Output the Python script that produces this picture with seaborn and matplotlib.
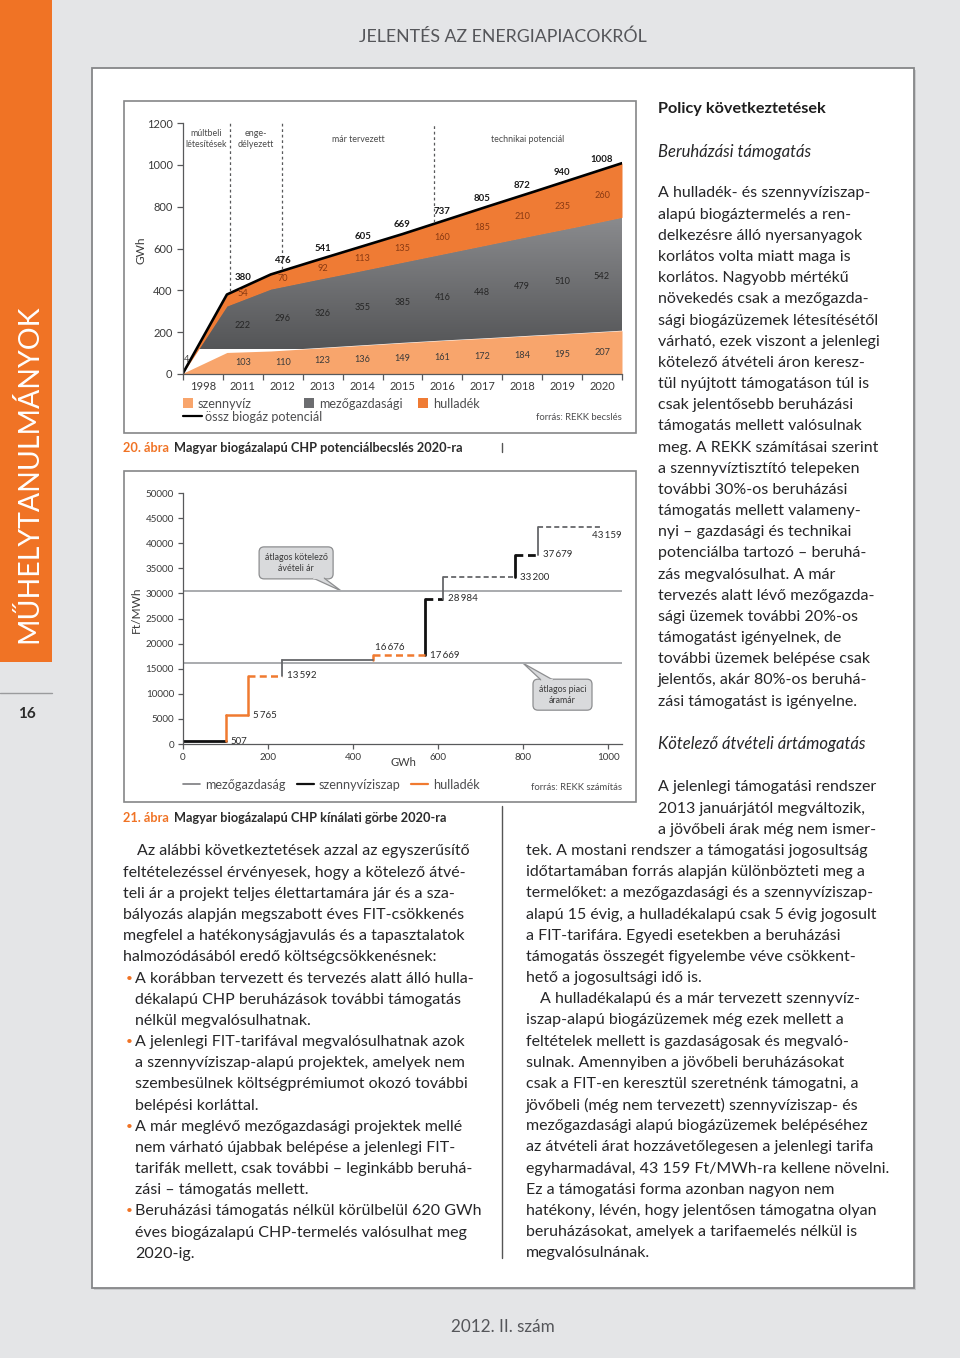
import numpy as np
import pandas as pd
import matplotlib
matplotlib.use("Agg")
import matplotlib.pyplot as plt
from matplotlib.patches import Rectangle, FancyBboxPatch, Polygon
from matplotlib.colors import LinearSegmentedColormap
import seaborn as sns

# ------------------- Data: 20. ábra (GWh) -------------------
years = ['1998', '2011', '2012', '2013', '2014', '2015', '2016', '2017', '2018', '2019', '2020']
szennyviz = [4, 103, 110, 123, 136, 149, 161, 172, 184, 195, 207]
mezogazdasagi = [0, 222, 296, 326, 355, 385, 416, 448, 479, 510, 542]
hulladek = [0, 54, 70, 92, 113, 135, 160, 185, 210, 235, 260]
ossz_potencial = [4, 380, 476, 541, 605, 669, 737, 805, 872, 940, 1008]
phase_labels = ['múltbeli\nlétesítések', 'enge-\ndélyezett', 'már tervezett', 'technikai potenciál']
phase_bounds = [1.07, 2.25, 5.72]

# ------------------- Data: 21. ábra (GWh, Ft/MWh) -------------------
supply_start = [0, 101, 153, 233, 447, 569, 612, 781, 835]
supply_end = [101, 153, 233, 447, 569, 612, 781, 835, 981]
supply_price = [507, 5765, 13592, 16676, 17669, 28984, 33200, 37679, 43159]
supply_source = ['szennyvíziszap', 'hulladék', 'hulladék', 'mezőgazdaság', 'hulladék',
                 'szennyvíziszap', 'mezőgazdaság', 'szennyvíziszap', 'mezőgazdaság']
supply_status = ['meglévő', 'meglévő', 'tervezett', 'meglévő', 'tervezett',
                 'tervezett', 'tervezett', 'tervezett', 'tervezett']
fit_avg_price = 30500
market_avg_price = 16100

# ------------------- Page text -------------------
sidebar_lines = [
    "A hulladék- és szennyvíziszap-", "alapú biogáztermelés a ren-", "delkezésre álló nyersanyagok",
    "korlátos volta miatt maga is", "korlátos. Nagyobb mértékű", "növekedés csak a mezőgazda-",
    "sági biogázüzemek létesítésétől", "várható, ezek viszont a jelenlegi", "kötelező átvételi áron keresz-",
    "tül nyújtott támogatáson túl is", "csak jelentősebb beruházási", "támogatás mellett valósulnak",
    "meg. A REKK számításai szerint", "a szennyvíztisztító telepeken", "további 30%-os beruházási",
    "támogatás mellett valameny-", "nyi – gazdasági és technikai", "potenciálba tartozó – beruhá-",
    "zás megvalósulhat. A már", "tervezés alatt lévő mezőgazda-", "sági üzemek további 20%-os",
    "támogatást igényelnek, de", "további üzemek belépése csak", "jelentős, akár 80%-os beruhá-",
    "zási támogatást is igényelne."]

left_lines = [
    (137, "Az alábbi következtetések azzal az egyszerűsítő", False),
    (123, "feltételezéssel érvényesek, hogy a kötelező átvé-", False),
    (123, "teli ár a projekt teljes élettartamára jár és a sza-", False),
    (123, "bályozás alapján megszabott éves FIT-csökkenés", False),
    (123, "megfelel a hatékonyságjavulás és a tapasztalatok", False),
    (123, "halmozódásából eredő költségcsökkenésnek:", False),
    (135, "A korábban tervezett és tervezés alatt álló hulla-", True),
    (135, "dékalapú CHP beruházások további támogatás", False),
    (135, "nélkül megvalósulhatnak.", False),
    (135, "A jelenlegi FIT-tarifával megvalósulhatnak azok", True),
    (135, "a szennyvíziszap-alapú projektek, amelyek nem", False),
    (135, "szembesülnek költségprémiumot okozó további", False),
    (135, "belépési korláttal.", False),
    (135, "A már meglévő mezőgazdasági projektek mellé", True),
    (135, "nem várható újabbak belépése a jelenlegi FIT-", False),
    (135, "tarifák mellett, csak további – leginkább beruhá-", False),
    (135, "zási – támogatás mellett.", False),
    (135, "Beruházási támogatás nélkül körülbelül 620 GWh", True),
    (135, "éves biogázalapú CHP-termelés valósulhat meg", False),
    (135, "2020-ig.", False)]

right_lines = [
    (658, "A jelenlegi támogatási rendszer"), (658, "2013 januárjától megváltozik,"),
    (658, "a jövőbeli árak még nem ismer-"),
    (526, "tek. A mostani rendszer a támogatási jogosultság"),
    (526, "időtartamában forrás alapján különbözteti meg a"),
    (526, "termelőket: a mezőgazdasági és a szennyvíziszap-"),
    (526, "alapú 15 évig, a hulladékalapú csak 5 évig jogosult"),
    (526, "a FIT-tarifára. Egyedi esetekben a beruházási"),
    (526, "támogatás összegét figyelembe véve csökkent-"),
    (526, "hető a jogosultsági idő is."),
    (540, "A hulladékalapú és a már tervezett szennyvíz-"),
    (526, "iszap-alapú biogázüzemek még ezek mellett a"),
    (526, "feltételek mellett is gazdaságosak és megvaló-"),
    (526, "sulnak. Amennyiben a jövőbeli beruházásokat"),
    (526, "csak a FIT-en keresztül szeretnénk támogatni, a"),
    (526, "jövőbeli (még nem tervezett) szennyvíziszap- és"),
    (526, "mezőgazdasági alapú biogázüzemek belépéséhez"),
    (526, "az átvételi árat hozzávetőlegesen a jelenlegi tarifa"),
    (526, "egyharmadával, 43 159 Ft/MWh-ra kellene növelni."),
    (526, "Ez a támogatási forma azonban nagyon nem"),
    (526, "hatékony, lévén, hogy jelentősen támogatna olyan"),
    (526, "beruházásokat, amelyek a tarifaemelés nélkül is"),
    (526, "megvalósulnának.")]

# ------------------- Style -------------------
sns.set_theme(style="white")
plt.rcParams['font.family'] = ['Lato', 'DejaVu Sans']

ORANGE = '#f07325'
C_SZENNY = '#f8a56c'
C_MEZO_TOP = '#8b8c8f'
C_MEZO_BOT = '#545557'
C_HULL = '#ef7b34'
TXT = '#262628'
GRAY_TXT = '#4d4d4f'
AX_COL = '#58595b'

W, H = 960, 1358
fig = plt.figure(figsize=(W / 100, H / 100), dpi=100)
fig.patch.set_facecolor('#e4e5e7')

page = fig.add_axes([0, 0, 1, 1])
page.set_xlim(0, W)
page.set_ylim(H, 0)
page.axis('off')


def add_box(x0, y0, x1, y1, shadow=3, lw=1.2):
    page.add_patch(Rectangle((x0 + shadow, y0 + shadow), x1 - x0, y1 - y0,
                             facecolor='#c9cacc', edgecolor='none', zorder=1))
    page.add_patch(Rectangle((x0, y0), x1 - x0, y1 - y0, facecolor='white',
                             edgecolor='#858688', lw=lw, zorder=2))


def txt(x, y, s, size=10.3, color=TXT, **kw):
    kw.setdefault('va', 'center_baseline')
    kw.setdefault('ha', 'left')
    return page.text(x, y, s, fontsize=size, color=color, zorder=5, **kw)


# page frame
page.add_patch(Rectangle((0, 0), 52, 662, facecolor=ORANGE, edgecolor='none', zorder=1))
page.plot([0, 52], [693, 693], color='#9a9b9d', lw=1, zorder=2)
txt(27, 713, '16', size=11, color='#2b2b2b', ha='center', fontweight='bold')
txt(29, 474, 'MŰHELYTANULMÁNYOK', size=20.5, color='white', ha='center', va='center',
    rotation=90)
txt(503, 35, 'JELENTÉS AZ ENERGIAPIACOKRÓL', size=12.8, color='#55565a', ha='center')
txt(503, 1325, '2012. II. szám', size=12.3, color='#55565a', ha='center')
add_box(92, 68, 914, 1288, shadow=2, lw=1.3)
add_box(124, 101, 636, 433)
add_box(124, 471, 636, 802)

# column separator
page.plot([502, 502], [443, 452], color='#555', lw=1, zorder=3)
page.plot([502, 502], [806, 1258], color='#555', lw=1, zorder=3)

# ------------------- Chart 20 -------------------
ax1 = fig.add_axes([183 / W, 1 - 374 / H, (622 - 183) / W, 251 / H], zorder=3)
ax1.patch.set_alpha(0)
x = np.arange(len(years))
s = np.array(szennyviz)
m = np.array(mezogazdasagi)
h = np.array(hulladek)
ax1.fill_between(x, 0, s, color=C_SZENNY, lw=0)
mezo_poly = ax1.fill_between(x, s, s + m, color='none', lw=0)
grad = np.linspace(0, 1, 256).reshape(-1, 1)
im = ax1.imshow(grad, extent=[0, len(years) - 1, 120, 760], origin='lower', aspect='auto',
                cmap=LinearSegmentedColormap.from_list('mezo', [C_MEZO_BOT, C_MEZO_TOP]))
im.set_clip_path(mezo_poly.get_paths()[0], transform=ax1.transData)
ax1.fill_between(x, s + m, s + m + h, color=C_HULL, lw=0)
sns.lineplot(x=x, y=ossz_potencial, color='black', lw=1.9, ax=ax1)
ax1.set_xlim(0, len(years) - 1)
ax1.set_ylim(0, 1200)

nb = len(years)
bin_w = (len(years) - 1) / nb
centers = (np.arange(nb) + 0.5) * bin_w
ax1.set_xticks(np.arange(nb + 1) * bin_w)
ax1.set_xticklabels([])
for c, yl in zip(centers, years):
    ax1.text(c, -0.028, yl, transform=ax1.get_xaxis_transform(), ha='center', va='top',
             fontsize=8, color='#3a3a3a')
ax1.set_yticks(range(0, 1201, 200))
ax1.tick_params(axis='y', labelsize=8, labelcolor='#3a3a3a', length=4.5, width=0.9,
                color=AX_COL, direction='out', left=True, pad=3)
ax1.tick_params(axis='x', length=4.5, width=0.9, color=AX_COL, direction='out', bottom=True)
for sp in ['top', 'right']:
    ax1.spines[sp].set_visible(False)
for sp in ['left', 'bottom']:
    ax1.spines[sp].set_color(AX_COL)
    ax1.spines[sp].set_linewidth(0.9)

# phase separators and labels
tot = np.array(ossz_potencial, dtype=float)
for b in phase_bounds:
    top_line = np.interp(b, x, tot)
    ax1.plot([b, b], [top_line + 10, 1200], color='#58595b', lw=0.9, ls=(0, (2.2, 2.2)))
edges = [0] + phase_bounds + [len(years) - 1]
for i, lab in enumerate(phase_labels):
    ax1.text((edges[i] + edges[i + 1]) / 2, 1122, lab, ha='center', va='center',
             fontsize=6.4, color='#4a4a4a', linespacing=1.25)

# value labels
for i in range(nb):
    c = centers[i]
    s_lo = np.interp(c, x, s)
    m_top = np.interp(c, x, s + m)
    t_top = np.interp(c, x, tot)
    if i == 0:
        ax1.text(0.08, 67, str(szennyviz[0]), fontsize=6.6, color='#444', ha='center', va='center')
        continue
    ax1.text(c, s_lo / 2, str(szennyviz[i]), fontsize=6.6, color='#3a3a3a', ha='center', va='center')
    ax1.text(c, (s_lo + m_top) / 2, str(mezogazdasagi[i]), fontsize=6.6, color='#262626',
             ha='center', va='center')
    ax1.text(c, (m_top + t_top) / 2, str(hulladek[i]), fontsize=6.6, color='#8a3a12',
             ha='center', va='center')
    ax1.annotate(str(ossz_potencial[i]), (c, t_top), xytext=(0, 4), textcoords='offset points',
                 ha='center', va='bottom', fontsize=6.9, fontweight='bold', color='#1a1a1a')

txt(141, 250, 'GWh', size=8.6, color='#3a3a3a', ha='center', va='center', rotation=90)

# legend 20
for lx, col, lab in [(183, C_SZENNY, 'szennyvíz'), (304, '#6c6d70', 'mezőgazdasági'),
                     (418, C_HULL, 'hulladék')]:
    page.add_patch(Rectangle((lx, 398), 10, 10, facecolor=col, edgecolor='none', zorder=4))
    txt(lx + 15, 403, lab, size=9.1, color=GRAY_TXT)
page.plot([183, 202], [416, 416], color='black', lw=1.6, zorder=4)
txt(205, 416, 'össz biogáz potenciál', size=9.1, color=GRAY_TXT)
txt(622, 416, 'forrás: REKK becslés', size=6.8, color=GRAY_TXT, ha='right')


def caption(y, num, title):
    t = txt(123, y, num, size=9.2, color=ORANGE, fontweight='bold')
    r = fig.canvas.get_renderer()
    bb = t.get_window_extent(r)
    x_end = page.transData.inverted().transform((bb.x1, bb.y0))[0]
    txt(x_end + 5, y, title, size=9.2, color='#2b2b2b', fontweight='bold')


caption(447, '20. ábra', 'Magyar biogázalapú CHP potenciálbecslés 2020-ra')

# ------------------- Chart 21 -------------------
ax2 = fig.add_axes([183 / W, 1 - 744 / H, (622 - 183) / W, 251 / H], zorder=3)
ax2.patch.set_alpha(0)
ax2.set_xlim(0, (622 - 183) / 0.425)
ax2.set_ylim(0, 50000)

rows = []
for i in range(len(supply_price)):
    if i > 0:
        rows.append(dict(gwh=supply_start[i], price=supply_price[i - 1], piece=f'v{i}',
                         source=supply_source[i], status='meglévő'))
        rows.append(dict(gwh=supply_start[i], price=supply_price[i], piece=f'v{i}',
                         source=supply_source[i], status='meglévő'))
    rows.append(dict(gwh=supply_start[i], price=supply_price[i], piece=f'h{i}',
                     source=supply_source[i], status=supply_status[i]))
    rows.append(dict(gwh=supply_end[i], price=supply_price[i], piece=f'h{i}',
                     source=supply_source[i], status=supply_status[i]))
supply = pd.DataFrame(rows)

src_colors = {'mezőgazdaság': '#66676a', 'szennyvíziszap': '#111111', 'hulladék': '#f07a30'}
src_sizes = {'mezőgazdaság': 1.3, 'szennyvíziszap': 2.0, 'hulladék': 1.8}

# reference lines
ax2.axhline(fit_avg_price, color='#a9abae', lw=1.4, zorder=1)
ax2.axhline(market_avg_price, color='#a9abae', lw=1.4, zorder=1)

sns.lineplot(data=supply, x='gwh', y='price', hue='source', units='piece', style='status',
             size='source', sizes=src_sizes, palette=src_colors,
             dashes={'meglévő': '', 'tervezett': (2.8, 1.7)},
             estimator=None, sort=False, legend=False, ax=ax2)
ax2.set_xlabel('')
ax2.set_ylabel('')

ax2.set_xticks(range(0, 1001, 200))
ax2.set_yticks(range(0, 50001, 5000))
ax2.tick_params(axis='both', labelsize=7.1, labelcolor='#3a3a3a', length=3.5, width=0.9,
                color=AX_COL, direction='out', left=True, bottom=True, pad=3)
for sp in ['top', 'right']:
    ax2.spines[sp].set_visible(False)
for sp in ['left', 'bottom']:
    ax2.spines[sp].set_color(AX_COL)
    ax2.spines[sp].set_linewidth(0.9)


# step labels
def fmt(v):
    return f'{v:,}'.replace(',', '\u2009')


for i, p in enumerate(supply_price):
    xe = supply_end[i]
    if i == len(supply_price) - 1:
        ax2.annotate(fmt(p), (1.0, p), xycoords=('axes fraction', 'data'), xytext=(0, -6),
                     textcoords='offset points', ha='right', va='center', fontsize=7, color='#2a2a2a')
    elif i == 3:
        ax2.annotate(fmt(p), (xe, p), xytext=(1.5, 9), textcoords='offset points',
                     ha='left', va='center', fontsize=7, color='#2a2a2a')
    else:
        ax2.annotate(fmt(p), (xe, p), xytext=(3.5, 0), textcoords='offset points',
                     ha='left', va='center', fontsize=7, color='#2a2a2a')


# callouts
def callout(ax, xd, yd, dx, dy, bw, bh, text, tail_side):
    X, Y = ax.transData.transform((xd, yd))
    px, py = page.transData.inverted().transform((X, Y))
    bx, by = px + dx, py + dy
    page.add_patch(FancyBboxPatch((bx, by), bw, bh, boxstyle='round,pad=0,rounding_size=5',
                                  facecolor='#d9dadc', edgecolor='#8d8e90', lw=0.9, zorder=6))
    if tail_side == 'bottom':
        tail = [(bx + bw - 20, by + bh - 0.8), (bx + bw - 9, by + bh - 0.8), (px, py)]
    else:
        tail = [(bx + 8, by + 0.8), (bx + 20, by + 0.8), (px, py)]
    page.add_patch(Polygon(tail, closed=True, facecolor='#d9dadc', edgecolor='#8d8e90', lw=0.9,
                           zorder=6))
    page.plot([tail[0][0] + 0.8, tail[1][0] - 0.8], [tail[0][1], tail[1][1]], color='#d9dadc',
              lw=1.6, zorder=7)
    txt(bx + bw / 2, by + bh / 2, text, size=6.4, color='#3a3a3a', ha='center', va='center',
        linespacing=1.3).set_zorder(8)


callout(ax2, 372, fit_avg_price, -82, -44, 74, 32, 'átlagos kötelező\návételi ár', 'bottom')
callout(ax2, 800, market_avg_price, 10, 16, 59, 31, 'átlagos piaci\náramár', 'top')

txt(136, 610, 'Ft/MWh', size=8.6, color='#3a3a3a', ha='center', va='center', rotation=90)
txt(403, 761, 'GWh', size=8, color='#3a3a3a', ha='center')

for lx, col, lab, lw in [(183, '#7b7c7f', 'mezőgazdaság', 1.2), (297, '#111111', 'szennyvíziszap', 1.6),
                         (411, '#f07a30', 'hulladék', 1.6)]:
    page.plot([lx, lx + 17], [784, 784], color=col, lw=lw, zorder=4)
    txt(lx + 22, 784, lab, size=9.1, color=GRAY_TXT)
txt(622, 786, 'forrás: REKK számítás', size=6.8, color=GRAY_TXT, ha='right')

caption(817, '21. ábra', 'Magyar biogázalapú CHP kínálati görbe 2020-ra')

# ------------------- Body text -------------------
BODY = 11.5
LS = 21.17

txt(658, 107, 'Policy következtetések', size=11.7, fontweight='bold', color='#1e1e1e')
txt(658, 150, 'Beruházási támogatás', size=12, style='italic')
for k, line in enumerate(sidebar_lines):
    txt(658, 192 + k * LS, line, size=BODY)
txt(658, 743, 'Kötelező átvételi ártámogatás', size=12, style='italic')

for k, (lx, line, bullet) in enumerate(left_lines):
    y = 850 + k * LS
    if bullet:
        txt(126, y, '•', size=8.5, color=ORANGE)
    txt(lx, y, line, size=BODY)

for k, (lx, line) in enumerate(right_lines):
    txt(lx, 786 + k * LS, line, size=BODY)

fig.savefig('out.png', dpi=100, facecolor=fig.get_facecolor())
